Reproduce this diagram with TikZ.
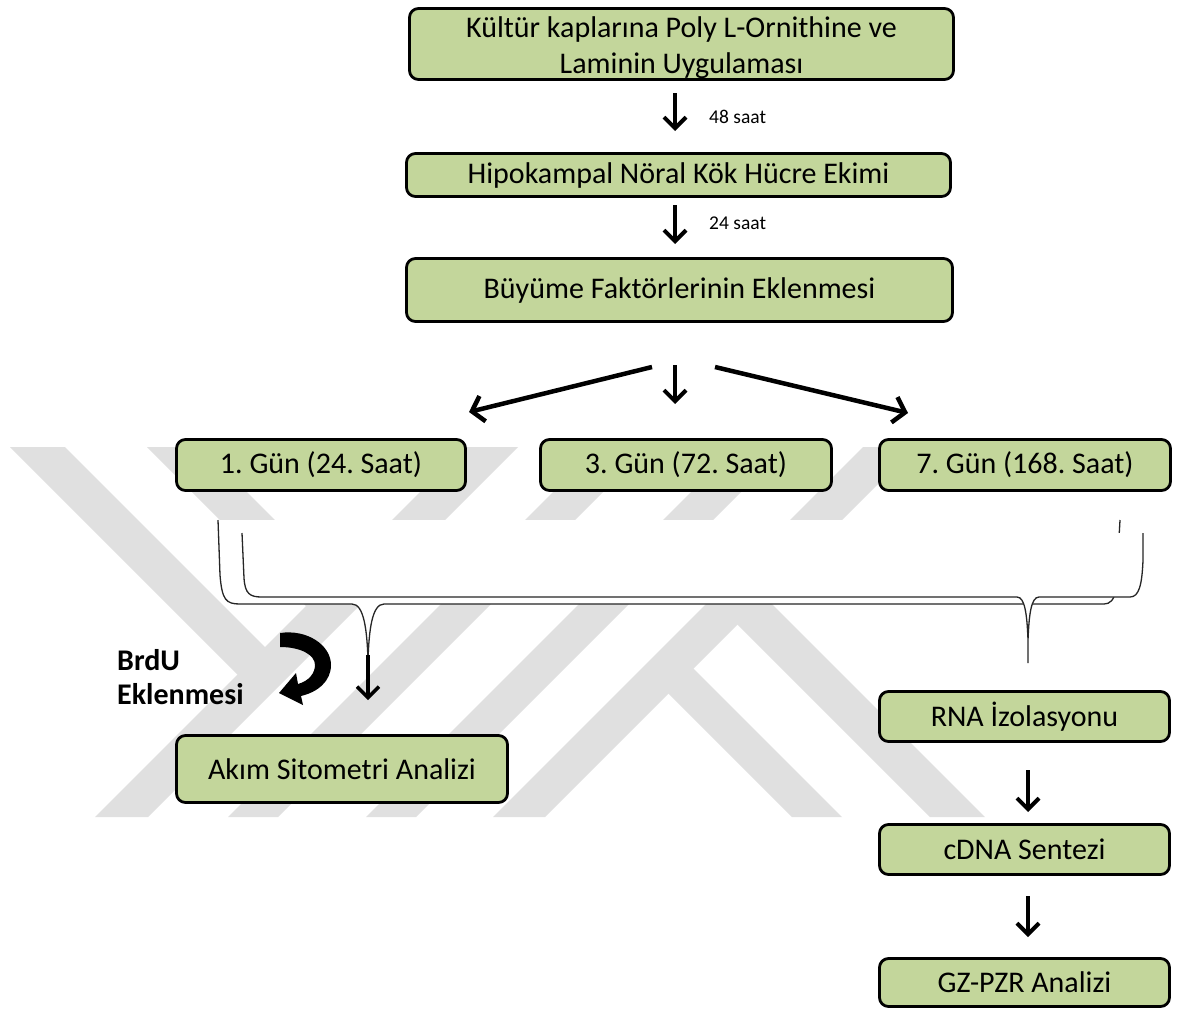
\documentclass[tikz,border=0pt]{standalone}
\usepackage{fontspec}
\setmainfont{Carlito}
\usetikzlibrary{arrows.meta}
\definecolor{boxgreen}{HTML}{C3D69B}
\definecolor{wm}{RGB}{224,224,224}
\frenchspacing
\begin{document}
\begin{tikzpicture}[x=1pt,y=-1pt,
  box/.style={draw=black, line width=2.8pt, fill=boxgreen, rounded corners=9pt,
    inner sep=0pt, align=center, font=\fontsize{30}{36}\selectfont},
  arr/.style={line width=4pt,-{Straight Barb[length=11pt,width=22pt]}},
  darr/.style={line width=4.5pt,-{Straight Barb[length=11pt,width=26pt]}},
  tiparr/.style={line width=3.4pt,-{Straight Barb[length=11pt,width=22pt]}},
  bracefill/.style={fill=white, draw=none},
  braceline/.style={draw=black!85, line width=1.3pt},
  lbl/.style={font=\fontsize{19.5}{23}\selectfont, anchor=west, inner sep=0pt},
  bold/.style={font=\fontsize{30}{35}\bfseries\selectfont, anchor=base west, inner sep=0pt}]
\useasboundingbox (0,0) rectangle (1177,1010);
\fill[white] (0,0) rectangle (1177,1010);
% watermark stripes
\fill[wm] (465,447)--(518,447)--(148,817)--(95,817)--cycle;
\fill[wm] (598,447)--(648,447)--(278,817)--(228,817)--cycle;
\fill[wm] (736,447)--(786,447)--(416,817)--(366,817)--cycle;
\fill[wm] (863,447)--(915,447)--(545,817)--(493,817)--cycle;
\fill[wm] (10,447)--(65,447)--(279,661)--(251.5,688.5)--cycle;
\fill[wm] (147,447)--(202,447)--(347.5,592.5)--(320,620)--cycle;
\fill[wm] (655,680)--(680,655)--(842,817)--(792,817)--cycle;
\fill[wm] (724,611)--(751.5,583.5)--(985,817)--(930,817)--cycle;
% boxes
\node[box, minimum width=544pt, minimum height=71pt] (top) at (681.5,44) {\rule{0pt}{28pt}Kültür kaplarına Poly L-Ornithine ve\\Laminin Uygulaması};
\node[box, minimum width=544pt, minimum height=43pt] (hip) at (678.5,175) {Hipokampal Nöral Kök Hücre Ekimi};
\node[box, minimum width=546pt, minimum height=63pt] (buy) at (679.5,290) {Büyüme Faktörlerinin Eklenmesi};
\node[box, minimum width=289pt, minimum height=51pt] (d1) at (321,465) {1. Gün (24. Saat)};
\node[box, minimum width=291pt, minimum height=51pt] (d3) at (686,465) {3. Gün (72. Saat)};
\node[box, minimum width=291pt, minimum height=51pt] (d7) at (1025,465) {7. Gün (168. Saat)};
\node[box, minimum width=331pt, minimum height=67pt] (akim) at (342,769) {Akım Sitometri Analizi};
\node[box, minimum width=290pt, minimum height=50pt] (rna) at (1024.5,716.5) {RNA İzolasyonu};
\node[box, minimum width=290pt, minimum height=50pt] (cdna) at (1024.5,849.5) {cDNA Sentezi};
\node[box, minimum width=290pt, minimum height=48pt] (gz) at (1024.5,982.5) {GZ-PZR Analizi};
% labels
\node[lbl] (l48) at (709,117) {48 saat};
\node[lbl] (l24) at (709,223) {24 saat};
\node[bold] (brdu) at (117,670) {BrdU};
\node[bold] (ekl) at (117,704) {Eklenmesi};
% arrow end points
\coordinate (a1s) at (675,93);  \coordinate (a1e) at (675,131);
\coordinate (a2s) at (675,205); \coordinate (a2e) at (675,244);
\coordinate (c0) at (675,365);  \coordinate (c1) at (675,404);
\coordinate (ls) at (652,367);  \coordinate (le) at (469,412);
\coordinate (rs) at (715,367);  \coordinate (re) at (908,413);
\coordinate (r1s) at (1028,770); \coordinate (r1e) at (1028,812);
\coordinate (r2s) at (1028,896); \coordinate (r2e) at (1028,937);
\coordinate (bt) at (368,655);  \coordinate (be) at (368,700);
% arrows
\draw[arr] (a1s) -- (a1e);
\draw[arr] (a2s) -- (a2e);
\draw[arr] (c0) -- (c1);
\draw[darr] (ls) -- (le);
\draw[darr] (rs) -- (re);
\draw[arr] (r1s) -- (r1e);
\draw[arr] (r2s) -- (r2e);
% brace A (outer, to flow cytometry)
\fill[bracefill] (218,520) -- (220,575) .. controls (222,600) and (226,604) .. (240,604) -- (352,604) .. controls (364,604) and (367,630) .. (368,660) .. controls (369,630) and (372,604) .. (384,604) -- (1104,604) .. controls (1110,604) and (1114,600) .. (1116,590) -- (1120,520) -- cycle;
\draw[braceline] (218,520) -- (220,575) .. controls (222,600) and (226,604) .. (240,604) -- (352,604) .. controls (364,604) and (367,630) .. (368,660) .. controls (369,630) and (372,604) .. (384,604) -- (1104,604) .. controls (1110,604) and (1114,600) .. (1116,590) -- (1120,520);
% brace B (inner, to RNA)
\fill[bracefill] (242,533) -- (244,578) .. controls (245,594) and (250,597) .. (262,597) -- (1017,597) .. controls (1025,597) and (1027,615) .. (1028,640) .. controls (1029,615) and (1031,597) .. (1039,597) -- (1130,597) .. controls (1139,597) and (1142,585) .. (1143,560) -- (1143,533) -- cycle;
\draw[braceline] (242,533) -- (244,578) .. controls (245,594) and (250,597) .. (262,597) -- (1017,597) .. controls (1025,597) and (1027,615) .. (1028,640) -- (1028,663) -- (1028,640) .. controls (1029,615) and (1031,597) .. (1039,597) -- (1130,597) .. controls (1139,597) and (1142,585) .. (1143,560) -- (1143,533);
% brace A tip arrow
\draw[tiparr] (bt) -- (be);
% BrdU curved arrow
\fill[black] (280,633) .. controls (307,629) and (331,645) .. (331,665) .. controls (331,681) and (318,692) .. (301,696) -- (303,705) -- (279,693) -- (296,673) -- (298,684) .. controls (309,681) and (315,673) .. (315,665) .. controls (315,655) and (301,647) .. (280,647) -- cycle;
\end{tikzpicture}
\end{document}
